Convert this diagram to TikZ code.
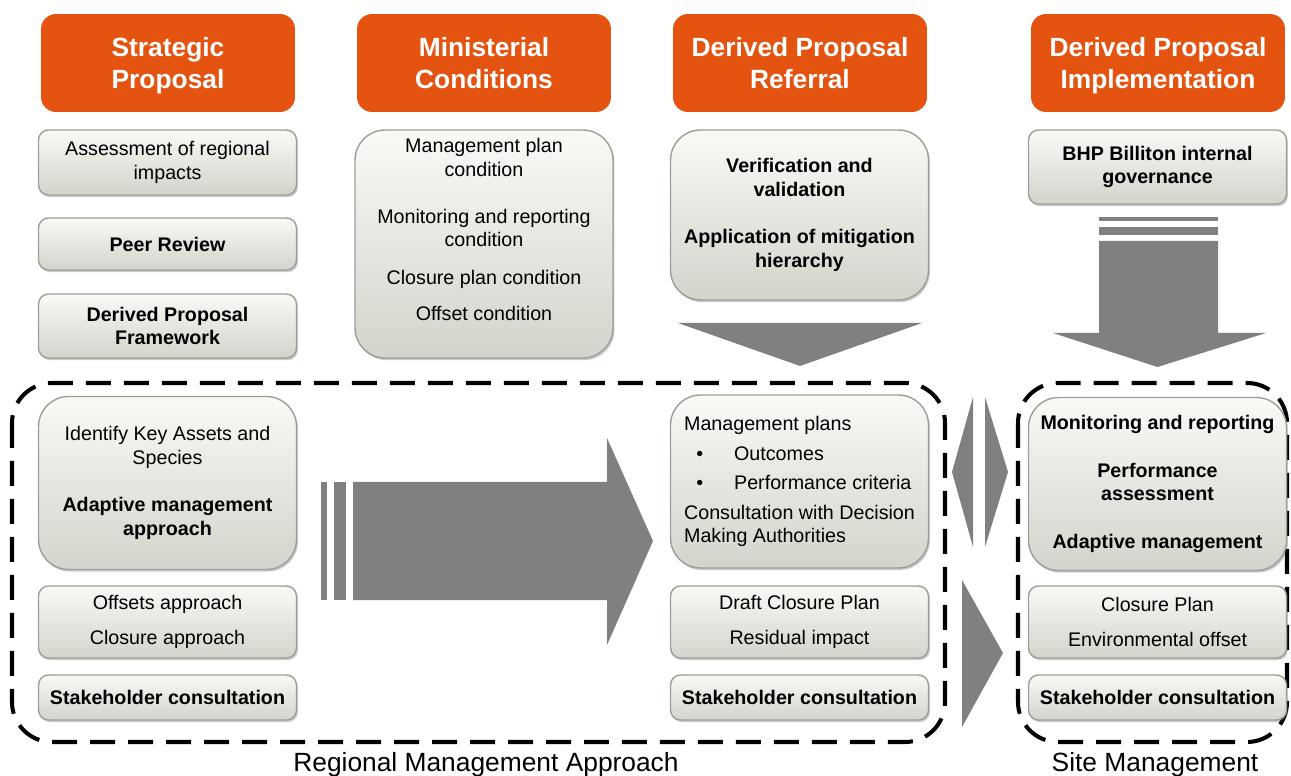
\documentclass[tikz,border=0pt]{standalone}
\usepackage{fontspec}
\setmainfont{Liberation Sans}
\usetikzlibrary{positioning, shadows}

\definecolor{headorange}{RGB}{228,84,16}
\definecolor{boxtop}{RGB}{249,249,246}
\definecolor{boxbottom}{RGB}{212,212,204}
\definecolor{boxline}{RGB}{158,158,152}
\definecolor{arrowgray}{RGB}{128,128,128}

\tikzset{
  header/.style={fill=headorange, rounded corners=0.3cm, text=white, align=center, text depth=0pt,
    minimum width=5.08cm, minimum height=1.96cm, font=\fontsize{15}{18}\selectfont\bfseries},
  panel/.style={draw=boxline, line width=0.8pt, top color=boxtop, bottom color=boxbottom,
    rounded corners=0.2cm, minimum width=5.16cm, align=center, inner sep=2pt,
    font=\fontsize{11.2}{13.4}\selectfont,
    drop shadow={shadow xshift=0.8pt, shadow yshift=-1.2pt, opacity=0.3, fill=black!70}},
  bigpanel/.style={panel, rounded corners=0.6cm},
  strong/.style={font=\fontsize{11.2}{13.4}\selectfont\bfseries},
  zone/.style={draw=black, line width=2.3pt, dash pattern=on 0.5cm off 0.26cm, rounded corners=0.8cm},
  zonelabel/.style={font=\fontsize{15}{18}\selectfont, anchor=base},
  block/.style={fill=arrowgray}
}

\begin{document}
\begin{tikzpicture}[x=0.02cm, y=-0.02cm]
    \useasboundingbox (0,0) rectangle (1291,776);

    % stage headers
    \node[header] (hstrat) at (168,63) {Strategic\\Proposal};
    \node[header] (hmin) at (484,63) {Ministerial\\Conditions};
    \node[header] (hrefer) at (800,63) {Derived Proposal\\Referral};
    \node[header] (himpl) at (1158,63) {Derived Proposal\\Implementation};

    % upper panels
    \node[panel, minimum height=1.3cm] (regimp) at (167.5,162.5) {Assessment of regional\\impacts};
    \node[panel, strong, minimum height=1.04cm] (peer) at (167.5,244) {Peer Review};
    \node[panel, strong, minimum height=1.28cm] (dpframe) at (167.5,326) {Derived Proposal\\Framework};
    \node[bigpanel, minimum height=4.56cm] (mincond) at (484,244) {};
    \node[anchor=north, align=center, font=\fontsize{11.2}{13.4}\selectfont] (mintext) at (484,132)
        {Management plan\\condition\\[13.6pt]Monitoring and reporting\\condition\\[8pt]Closure plan condition\\[6.8pt]Offset condition};
    \node[bigpanel, strong, minimum height=3.4cm] (verif) at (799.5,215)
        {Verification and\\validation\\[13.6pt]Application of mitigation\\hierarchy};
    \node[panel, strong, minimum height=1.48cm] (bhp) at (1157.5,167) {BHP Billiton internal\\governance};

    % regional management approach
    \draw[zone] (12,383) rectangle (945,742);
    \node[bigpanel, minimum height=3.46cm] (keyassets) at (167.5,483)
        {Identify Key Assets and\\Species\\[13.6pt]\textbf{Adaptive management}\\\textbf{approach}};
    \node[panel, minimum height=1.44cm] (offsets) at (167.5,622) {Offsets approach\\[6.8pt]Closure approach};
    \node[panel, strong, minimum height=0.9cm] (stake1) at (167.5,697.5) {Stakeholder consultation};

    \node[bigpanel, align=left, minimum height=3.46cm] (mgmt) at (799.5,481.5)
        {Management plans\\[3.4pt]\hspace*{7pt}\makebox[21.5pt][l]{\textbullet}Outcomes\\[3.4pt]%
         \hspace*{7pt}\makebox[21.5pt][l]{\textbullet}Performance criteria\\[3.4pt]%
         Consultation with Decision\\Making Authorities};
    \node[panel, minimum height=1.44cm] (draftcl) at (799.5,622) {Draft Closure Plan\\[6.8pt]Residual impact};
    \node[panel, strong, minimum height=0.9cm] (stake2) at (799.5,697.5) {Stakeholder consultation};

    % site management
    \draw[zone] (1018,383) rectangle (1287,742);
    \node[bigpanel, strong, minimum height=3.46cm] (monitor) at (1157.5,484)
        {Monitoring and reporting\\[13.6pt]Performance\\assessment\\[13.6pt]Adaptive management};
    \node[panel, minimum height=1.44cm] (closure) at (1157.5,622) {Closure Plan\\[6.8pt]Environmental offset};
    \node[panel, strong, minimum height=0.9cm] (stake3) at (1157.5,697.5) {Stakeholder consultation};

    \node[zonelabel] (regional) at (486,771) {Regional Management Approach};
    \node[zonelabel] (site) at (1155,771) {Site Management};

    % arrows
    \fill[block] (678,323) -- (922,323) -- (800,366) -- cycle;
    \foreach \y/\h in {217/4, 227/8} {
        \fill[block] (1099,\y) rectangle ++(119,\h);
    }
    \fill[block] (1099,241) -- (1218,241) -- (1218,333) -- (1266,333) -- (1157.5,367)
        -- (1053,333) -- (1099,333) -- cycle;
    \foreach \x/\w in {321/6, 334/12} {
        \fill[block] (\x,482) rectangle ++(\w,118);
    }
    \fill[block] (353,482) -- (607,482) -- (607,438) -- (653,541) -- (607,645)
        -- (607,600) -- (353,600) -- cycle;
    \fill[block] (973,397) -- (973,547) -- (952,472) -- cycle;
    \fill[block] (985,397) -- (985,547) -- (1008,472) -- cycle;
    \fill[block] (962,580) -- (962,727) -- (1003,653) -- cycle;
\end{tikzpicture}
\end{document}
